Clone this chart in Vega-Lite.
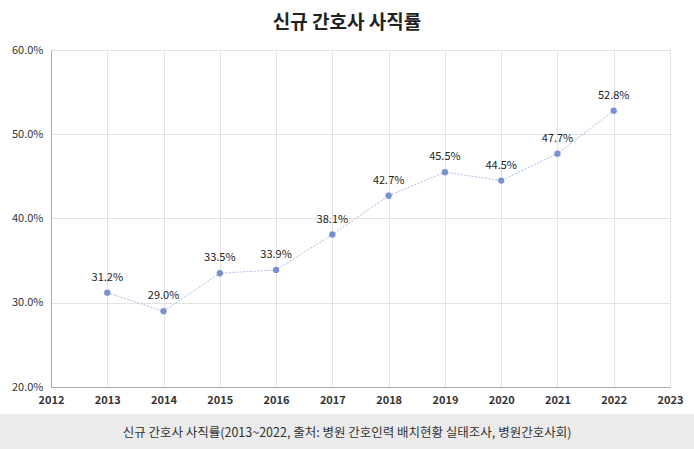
{
  "$schema": "https://vega.github.io/schema/vega-lite/v6.json",
  "padding": {"top": 14, "left": 0, "right": 0, "bottom": 0},
  "background": "white",
  "spacing": 0,
  "title": {
    "text": "신규 간호사 사직률",
    "anchor": "middle",
    "frame": "bounds",
    "fontSize": 19,
    "fontWeight": "bold",
    "color": "#222222",
    "font": "Noto Sans CJK KR",
    "offset": 11
  },
  "config": {
    "font": "Noto Sans CJK KR",
    "concat": {"spacing": 0}
  },
  "vconcat": [
    {
      "width": 670,
      "height": 337,
      "view": {"stroke": null, "fill": null},
      "data": {
        "values": [
          {"year": 2013, "rate": 0.312},
          {"year": 2014, "rate": 0.290},
          {"year": 2015, "rate": 0.335},
          {"year": 2016, "rate": 0.339},
          {"year": 2017, "rate": 0.381},
          {"year": 2018, "rate": 0.427},
          {"year": 2019, "rate": 0.455},
          {"year": 2020, "rate": 0.445},
          {"year": 2021, "rate": 0.477},
          {"year": 2022, "rate": 0.528}
        ]
      },
      "encoding": {
        "x": {
          "field": "year",
          "type": "quantitative",
          "scale": {"domain": [2012, 2023], "range": [51, 670], "nice": false, "zero": false},
          "axis": {
            "title": null,
            "values": [2012, 2013, 2014, 2015, 2016, 2017, 2018, 2019, 2020, 2021, 2022, 2023],
            "format": "d",
            "ticks": false,
            "labelOverlap": false,
            "labelPadding": 7,
            "labelFontSize": 11,
            "labelFontWeight": "bold",
            "labelColor": "#333333",
            "domainColor": "#aaaaaa",
            "gridColor": "#e2e2e2",
            "minExtent": 27,
            "labelFlush": false
          }
        },
        "y": {
          "field": "rate",
          "type": "quantitative",
          "scale": {"domain": [0.2, 0.6], "nice": false, "zero": false},
          "axis": {
            "title": null,
            "offset": -51,
            "values": [0.2, 0.3, 0.4, 0.5, 0.6],
            "format": ".1%",
            "ticks": false,
            "labelPadding": 8,
            "labelFontSize": 11,
            "labelColor": "#333333",
            "domainColor": "#aaaaaa",
            "gridColor": "#e2e2e2",
            "minExtent": 0,
            "maxExtent": 0
          }
        }
      },
      "layer": [
        {
          "data": {"values": [{"panel": "plot"}]},
          "mark": {
            "type": "rect",
            "opacity": 0.4,
            "color": {
              "gradient": "linear",
              "x1": 0, "y1": 0, "x2": 0, "y2": 1,
              "stops": [
                {"offset": 0, "color": "#ffffff"},
                {"offset": 1, "color": "#d0d0d0"}
              ]
            }
          },
          "encoding": {
            "x": {"datum": 2012, "type": "quantitative"},
            "x2": {"datum": 2023},
            "y": {"datum": 0.6, "type": "quantitative"},
            "y2": {"datum": 0.2}
          }
        },
        {
          "mark": {"type": "line", "color": "#a8bbe6", "strokeWidth": 1, "strokeDash": [2, 1.5]}
        },
        {
          "mark": {"type": "point", "filled": true, "size": 40, "color": "#7891d2", "opacity": 1}
        },
        {
          "mark": {"type": "text", "dy": -15, "fontSize": 11, "color": "#222222"},
          "encoding": {"text": {"field": "rate", "type": "quantitative", "format": ".1%"}}
        }
      ]
    },
    {
      "width": 694,
      "height": 37,
      "view": {"fill": "#ebebeb", "stroke": null},
      "data": {"values": [{"caption": "신규 간호사 사직률(2013~2022, 출처: 병원 간호인력 배치현황 실태조사, 병원간호사회)"}]},
      "mark": {"type": "text", "fontSize": 12.5, "color": "#333333", "align": "center", "baseline": "middle"},
      "encoding": {"text": {"field": "caption", "type": "nominal"}}
    }
  ]
}
